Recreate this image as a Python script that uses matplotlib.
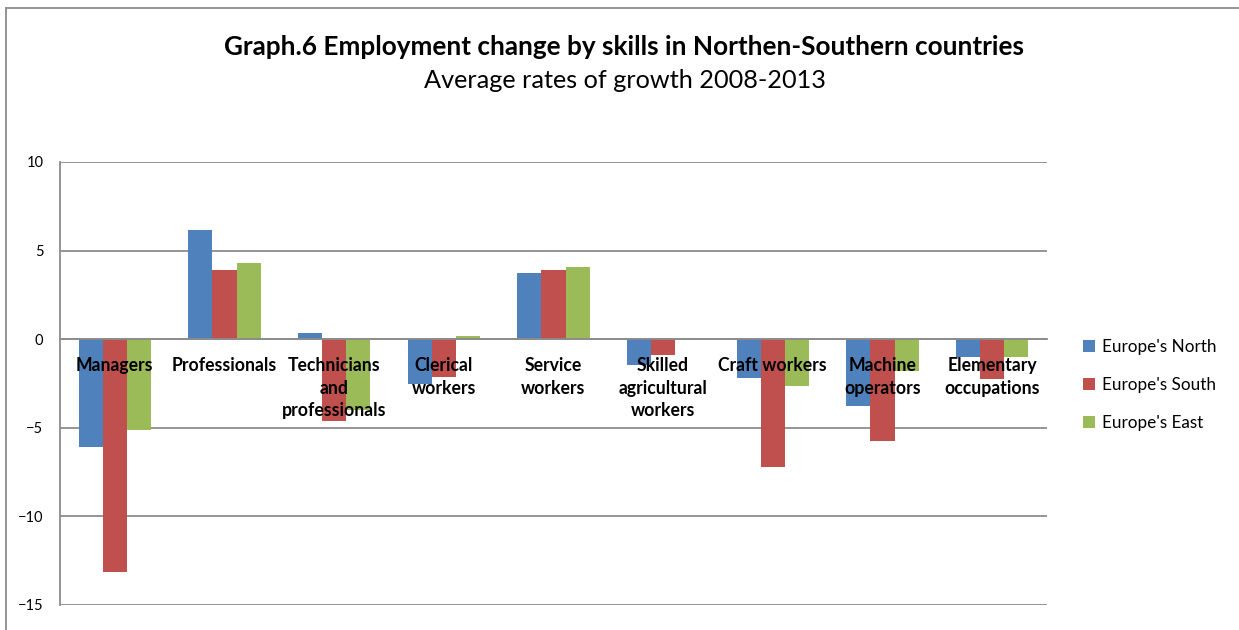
import matplotlib.pyplot as plt
import numpy as np
from matplotlib.lines import Line2D

plt.rcParams['font.family'] = ['Lato', 'DejaVu Sans']

categories = ["Managers", "Professionals", "Technicians\nand\nprofessionals",
              "Clerical\nworkers", "Service\nworkers", "Skilled\nagricultural\nworkers",
              "Craft workers", "Machine\noperators", "Elementary\noccupations"]

north = [-6.1, 6.15, 0.35, -2.55, 3.75, -1.45, -2.2, -3.8, -0.98]
south = [-13.15, 3.9, -4.62, -2.15, 3.88, -0.92, -7.2, -5.75, -2.25]
east = [-5.12, 4.3, -4.0, 0.2, 4.05, -0.05, -2.62, -1.82, -1.03]

series = [("Europe's North", north, "#4F81BD"),
          ("Europe's South", south, "#C0504D"),
          ("Europe's East", east, "#9BBB59")]

fig = plt.figure(figsize=(12.39, 6.3), dpi=100)
ax = fig.add_axes([0.0484, 0.0397, 0.7966, 0.7033])

x = np.arange(len(categories))
w = 0.22
for i, (name, vals, col) in enumerate(series):
    ax.bar(x + (i - 1) * w, vals, w, color=col, label=name, zorder=2)

ax.set_xlim(-0.5, len(categories) - 0.5)
ax.set_ylim(-15, 10)
ax.set_yticks([-15, -10, -5, 0, 5, 10])
ax.yaxis.grid(True, color="#8c8c8c", linewidth=1.3)
ax.set_axisbelow(True)
ax.tick_params(axis="y", length=0, labelsize=10.5, pad=12)

ax.spines["top"].set_visible(False)
ax.spines["right"].set_visible(False)
ax.spines["bottom"].set_position(("data", 0))
ax.spines["bottom"].set_color("#8c8c8c")
ax.spines["bottom"].set_linewidth(1.3)
ax.spines["left"].set_color("#8c8c8c")
ax.spines["left"].set_linewidth(1.3)

# category names sit just under the zero line, on top of the bars
ax.set_xticks([])
for xi, name in zip(x, categories):
    ax.annotate(name, (xi, 0), xytext=(0, -13), textcoords="offset points",
                ha="center", va="top", fontsize=12.7, fontweight="bold",
                linespacing=1.4, zorder=5)

fig.text(0.504, 0.926, "Graph.6 Employment change by skills in Northen-Southern countries",
         ha="center", va="center", fontsize=18.8, fontweight="bold")
fig.text(0.504, 0.872, "Average rates of growth 2008-2013",
         ha="center", va="center", fontsize=18.2)

ax.legend(loc="center left", bbox_to_anchor=(1.021, 0.497), frameon=False,
          fontsize=12.3, handlelength=0.7, handleheight=0.7, handletextpad=0.4,
          labelspacing=1.3)

# chart-area frame, clipped on the right and bottom
fig.add_artist(Line2D([6 / 1239, 6 / 1239], [0, 1 - 8 / 630], color="#8c8c8c",
                      linewidth=1.3, transform=fig.transFigure))
fig.add_artist(Line2D([6 / 1239, 1], [1 - 8 / 630, 1 - 8 / 630], color="#8c8c8c",
                      linewidth=1.3, transform=fig.transFigure))

fig.savefig("out.png", dpi=100)
